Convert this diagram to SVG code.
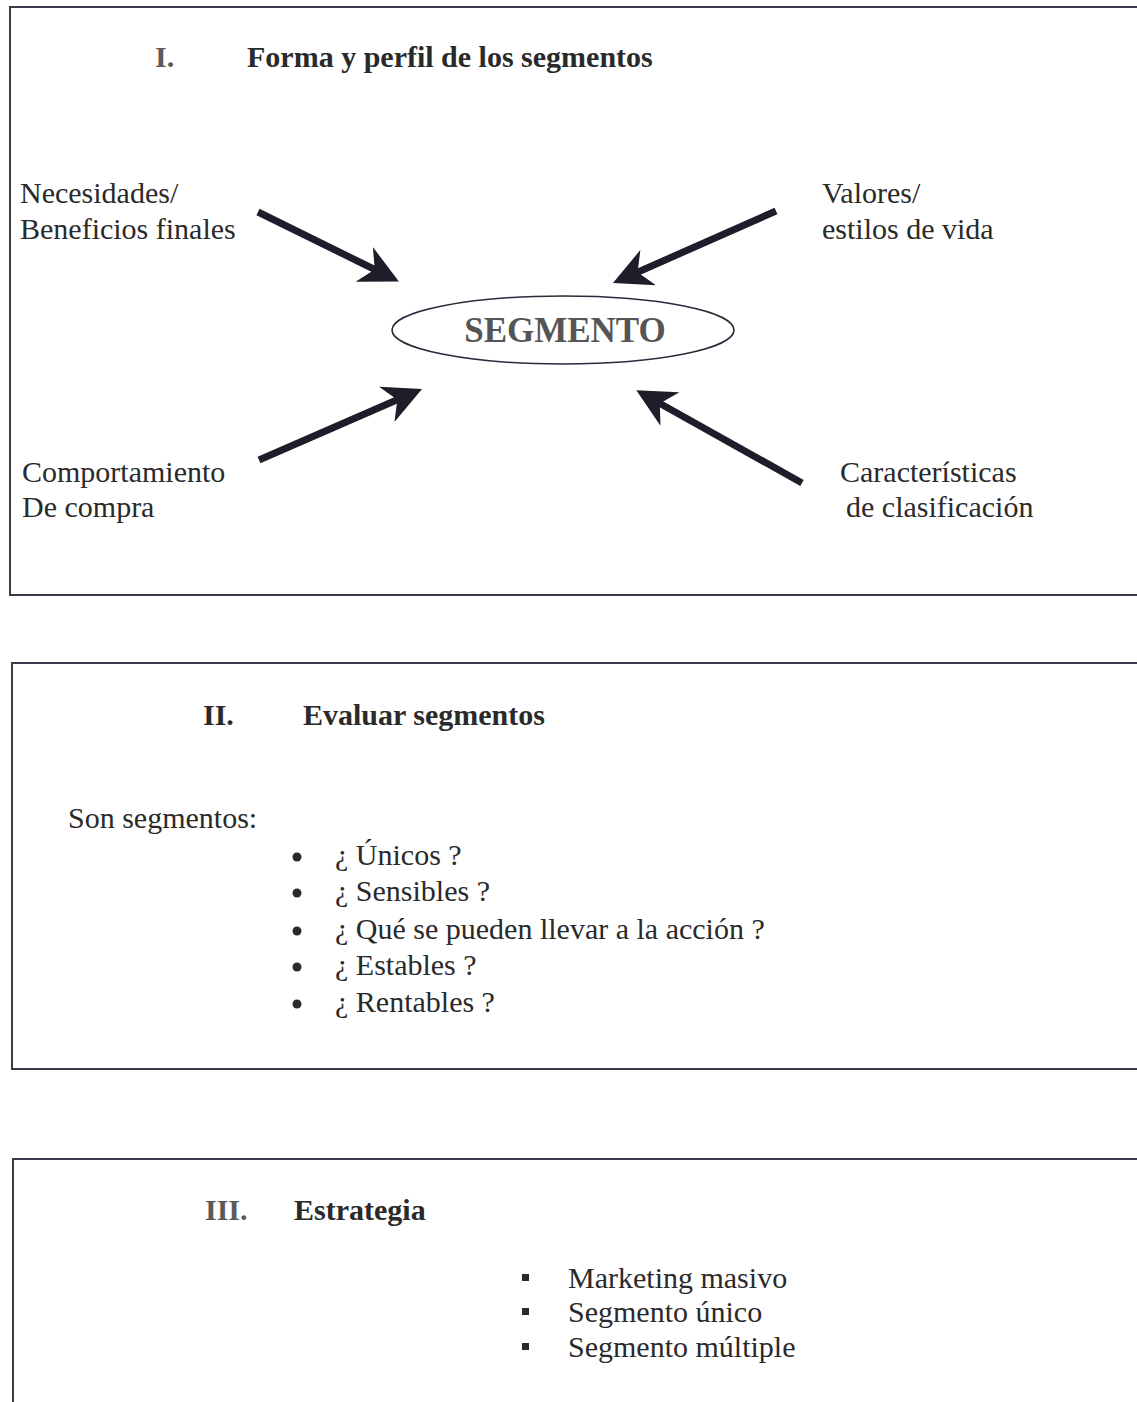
<svg xmlns="http://www.w3.org/2000/svg" width="1137" height="1402" viewBox="0 0 1137 1402">
  <style>
    .frame { fill: none; stroke: #3a3a4a; stroke-width: 2; }
    .txt { font-family: "Liberation Serif", "Times New Roman", serif; font-size: 30px; fill: #2a2a2a; }
    .head { font-family: "Liberation Serif", "Times New Roman", serif; font-size: 30px; font-weight: bold; fill: #2a2a2a; }
    .num { fill: #5a5a5a; }
    .seg { font-size: 35px; fill: #555555; }
    .arrow { stroke: #1e1e2a; stroke-width: 7; fill: none; marker-end: url(#head); }
  </style>
  <defs>
    <marker id="head" viewBox="0 0 10 10" refX="8" refY="5" markerWidth="5.5" markerHeight="5.5" orient="auto" markerUnits="strokeWidth">
      <path d="M0,0 L10,5 L0,10 L3,5 Z" fill="#1e1e2a"/>
    </marker>
  </defs>
  <rect width="1137" height="1402" fill="#ffffff"/>

  <!-- Section I: shape and profile -->
  <g id="section-1">
    <path class="frame" d="M1140,7 H10 V595 H1140"/>
    <text class="head num" x="155" y="67">I.</text>
    <text class="head" x="247" y="67">Forma y perfil de los segmentos</text>
  </g>
  <g id="segmento">
    <ellipse cx="563" cy="330" rx="171" ry="34" fill="#ffffff" stroke="#2a2a3a" stroke-width="1.6"/>
    <text class="head seg" x="565" y="342" text-anchor="middle">SEGMENTO</text>
  </g>
  <g id="needs">
    <text class="txt" x="20" y="203">Necesidades/</text>
    <text class="txt" x="20" y="239">Beneficios finales</text>
  </g>
  <g id="values">
    <text class="txt" x="822" y="203">Valores/</text>
    <text class="txt" x="822" y="239">estilos de vida</text>
  </g>
  <g id="behaviour">
    <text class="txt" x="22" y="482">Comportamiento</text>
    <text class="txt" x="22" y="517">De compra</text>
  </g>
  <g id="classification">
    <text class="txt" x="840" y="482">Características</text>
    <text class="txt" x="846" y="517">de clasificación</text>
  </g>
  <g id="connectors">
    <line class="arrow" x1="258" y1="212" x2="392" y2="278"/>
    <line class="arrow" x1="776" y1="211" x2="620" y2="280"/>
    <line class="arrow" x1="259" y1="460" x2="415" y2="392"/>
    <line class="arrow" x1="802" y1="483" x2="643" y2="394"/>
  </g>

  <!-- Section II: evaluate segments -->
  <g id="section-2">
    <path class="frame" d="M1140,663 H12 V1069 H1140"/>
    <text class="head" x="203" y="725">II.</text>
    <text class="head" x="303" y="725">Evaluar segmentos</text>
    <text class="txt" x="68" y="828">Son segmentos:</text>
    <g fill="#2a2a2a">
      <circle cx="297" cy="857" r="4.5"/>
      <circle cx="297" cy="893" r="4.5"/>
      <circle cx="297" cy="931" r="4.5"/>
      <circle cx="297" cy="967" r="4.5"/>
      <circle cx="297" cy="1004" r="4.5"/>
    </g>
    <text class="txt" x="335" y="865">¿ Únicos ?</text>
    <text class="txt" x="335" y="901">¿ Sensibles ?</text>
    <text class="txt" x="335" y="939">¿ Qué se pueden llevar a la acción ?</text>
    <text class="txt" x="335" y="975">¿ Estables ?</text>
    <text class="txt" x="335" y="1012">¿ Rentables ?</text>
  </g>

  <!-- Section III: strategy -->
  <g id="section-3">
    <path class="frame" d="M13,1405 V1159 H1140"/>
    <text class="head num" x="205" y="1220">III.</text>
    <text class="head" x="294" y="1220">Estrategia</text>
    <g fill="#2a2a2a">
      <rect x="522" y="1274" width="7" height="7"/>
      <rect x="522" y="1308" width="7" height="7"/>
      <rect x="522" y="1343" width="7" height="7"/>
    </g>
    <text class="txt" x="568" y="1288">Marketing masivo</text>
    <text class="txt" x="568" y="1322">Segmento único</text>
    <text class="txt" x="568" y="1357">Segmento múltiple</text>
  </g>
</svg>
